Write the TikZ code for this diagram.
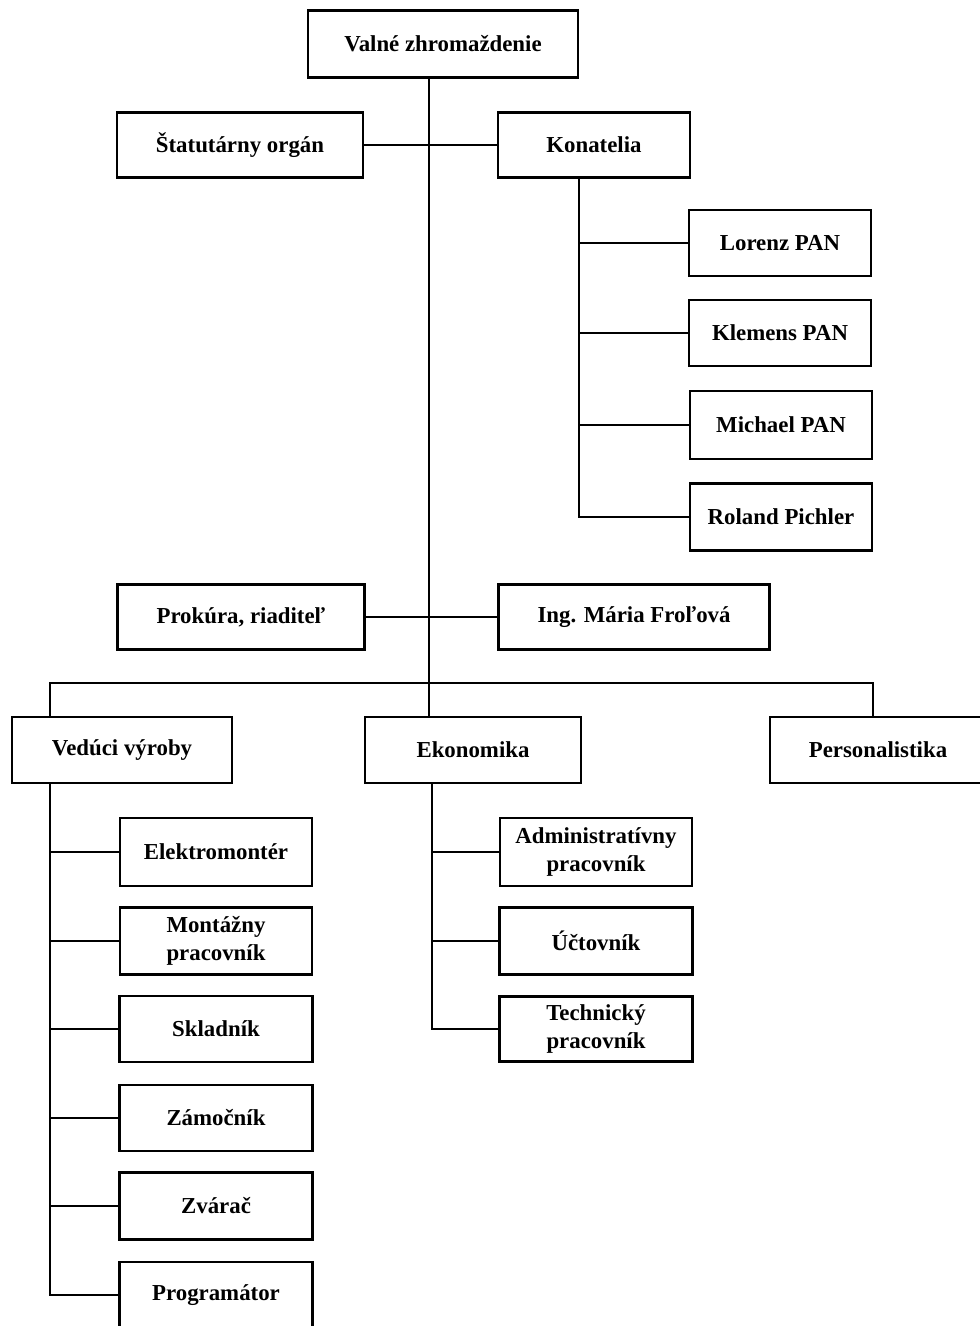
\documentclass[tikz,border=0pt]{standalone}
\usepackage{fontspec}
\setmainfont{Liberation Serif}
\usetikzlibrary{calc}

\begin{document}
\begin{tikzpicture}[x=0.02cm, y=-0.02cm, line width=1.3pt]
\tikzstyle{every node}=[draw, rectangle, inner sep=0pt, align=center, font=\fontsize{13}{16}\selectfont\bfseries];
\useasboundingbox (0,0) rectangle (980,1326);
\node[minimum width=5.4cm, minimum height=1.34cm] (vz) at (443, 44) {Valné zhromaždenie};
\node[minimum width=4.92cm, minimum height=1.3cm] (st) at (240, 145) {Štatutárny orgán};
\node[minimum width=3.84cm, minimum height=1.3cm] (ko) at (594, 145) {Konatelia};
\node[minimum width=3.64cm, minimum height=1.32cm] (lp) at (780, 243) {Lorenz PAN};
\node[minimum width=3.64cm, minimum height=1.32cm] (kp) at (780, 333) {Klemens PAN};
\node[minimum width=3.64cm, minimum height=1.36cm] (mp) at (781, 425) {Michael PAN};
\node[minimum width=3.64cm, minimum height=1.34cm] (rp) at (781, 517) {Roland Pichler};
\node[minimum width=4.94cm, minimum height=1.3cm] (pr) at (241, 617) {Prokúra, riaditeľ};
\node[minimum width=5.42cm, minimum height=1.3cm] (mf) at (634, 617) {Ing. Mária Froľová};
\node[minimum width=4.4cm, minimum height=1.32cm] (vv) at (122, 750) {Vedúci výroby};
\node[minimum width=4.32cm, minimum height=1.32cm] (ek) at (473, 750) {Ekonomika};
\node[minimum width=4.32cm, minimum height=1.32cm] (pe) at (878, 750) {Personalistika};
\node[minimum width=3.84cm, minimum height=1.36cm] (em) at (216, 852) {Elektromontér};
\node[minimum width=3.84cm, minimum height=1.34cm] (mo) at (216, 941) {Montážny\\pracovník};
\node[minimum width=3.86cm, minimum height=1.32cm] (sk) at (216, 1029) {Skladník};
\node[minimum width=3.86cm, minimum height=1.32cm] (za) at (216, 1118) {Zámočník};
\node[minimum width=3.86cm, minimum height=1.34cm] (zv) at (216, 1206) {Zvárač};
\node[minimum width=3.86cm, minimum height=1.32cm] (pg) at (216, 1295) {Programátor};
\node[minimum width=3.84cm, minimum height=1.36cm] (ap) at (596, 852) {Administratívny\\pracovník};
\node[minimum width=3.86cm, minimum height=1.34cm] (uc) at (596, 941) {Účtovník};
\node[minimum width=3.86cm, minimum height=1.3cm] (tp) at (596, 1029) {Technický\\pracovník};
\coordinate (tr) at (429, 0);
\coordinate (kt) at (579, 0);
\coordinate (vb) at (50, 683);
\coordinate (pb) at (873, 683);
\coordinate (vt) at (50, 0);
\coordinate (et) at (432, 0);
\draw (vz.south -| tr) -- (ek.north -| tr)
(st) -- (ko)
(pr) -- (mf)
(vv.north -| vb) -- (vb) -- (pb) -- (pe.north -| pb);
\draw (ko.south -| kt) -- (kt |- rp) -- (rp);
\foreach \n in {lp, kp, mp} \draw (kt |- \n) -- (\n);
\draw (vv.south -| vt) -- (vt |- pg) -- (pg);
\foreach \n in {em, mo, sk, za, zv} \draw (vt |- \n) -- (\n);
\draw (ek.south -| et) -- (et |- tp) -- (tp);
\foreach \n in {ap, uc} \draw (et |- \n) -- (\n);
\end{tikzpicture}
\end{document}
